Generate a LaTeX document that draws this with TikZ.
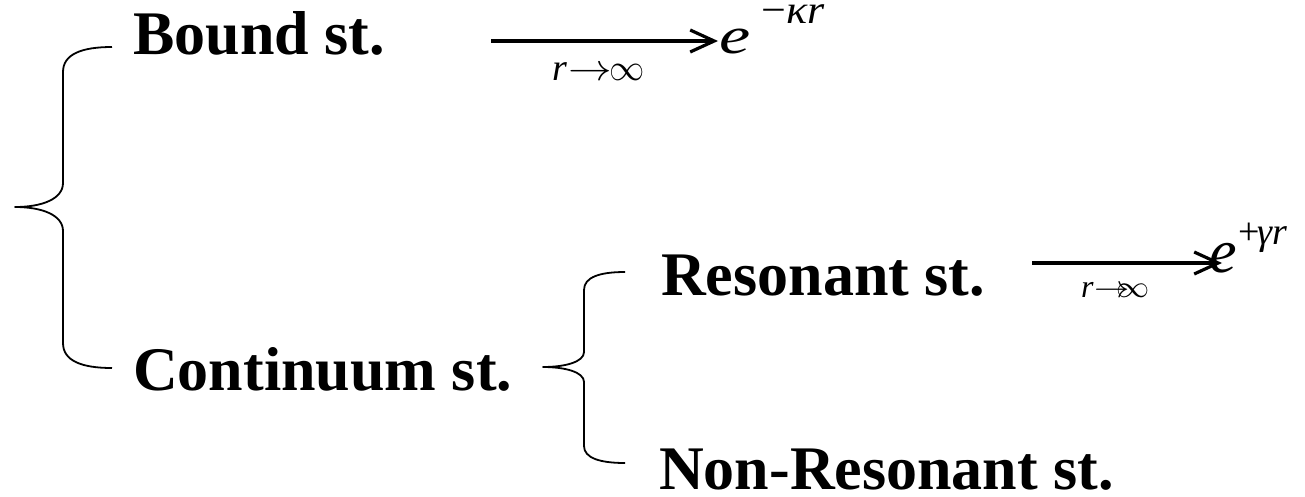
\documentclass[tikz,border=0pt]{standalone}
\usepackage{fontspec}
\setmainfont{Liberation Serif}[ItalicFont={Liberation Serif Italic},BoldFont={Liberation Serif Bold}]
\usetikzlibrary{arrows.meta}
\newcommand{\limsym}[4]{{\fontsize{20.74}{22}\selectfont\scalebox{#1}[#2]{$\rightarrow$}\kern#4\scalebox{#3}[#2]{$\infty$}}}
\begin{document}
\begin{tikzpicture}[x=1pt,y=-1pt,
  lbl/.style={anchor=base west,inner sep=0pt,font=\fontsize{62}{70}\selectfont\bfseries},
  brace/.style={line width=1.8pt,line join=round},
  limarrow/.style={line width=3.5pt,-{Straight Barb[length=24pt,width=22pt,line width=3.2pt]}},
  txt/.style={anchor=base west,inner sep=0pt}]
\useasboundingbox (0,0) rectangle (1305,496);
% labels
\node[lbl] (bound) at (133,54) {Bound st.};
\node[lbl] (cont) at (133,390) {Continuum st.};
\node[lbl] (res) at (661,295) {Resonant st.};
\node[lbl] (nonres) at (659,489) {Non-Resonant st.};
% big brace
\coordinate (B1) at (112,47);
\coordinate (B2) at (112,368);
\coordinate (Bt) at (15,207);
\draw[brace] (B1) .. controls (82,47) and (63,54) .. (63,72) -- (63,183)
  .. controls (63,199) and (42,207) .. (Bt)
  .. controls (42,207) and (63,215) .. (63,231) -- (63,343)
  .. controls (63,361) and (82,368) .. (B2);
% small brace
\coordinate (S1) at (625,272);
\coordinate (S2) at (625,463);
\coordinate (St) at (543,367);
\draw[brace] (S1) .. controls (600,272) and (584,277) .. (584,290) -- (584,352)
  .. controls (584,362) and (565,367) .. (St)
  .. controls (565,367) and (584,372) .. (584,382) -- (584,446)
  .. controls (584,458) and (600,463) .. (S2);
% arrow 1
\coordinate (a1s) at (491,41);
\coordinate (a1e) at (718,41);
\draw[limarrow] (a1s) -- (a1e);
\node[txt] (lim1) at (552,80) {\fontsize{38}{40}\selectfont\textit{r}\kern1pt\limsym{2.1}{1.8}{1.7}{-2pt}};
\node[txt] (e1) at (719,53) {\scalebox{1.35}[1]{\fontsize{52}{60}\selectfont\itshape e}};
\node[txt] (sup1) at (761,23) {\scalebox{1.1}[1]{\fontsize{40}{40}\selectfont −\textit{κr}}};
% arrow 2
\coordinate (a2s) at (1032,263);
\coordinate (a2e) at (1222,263);
\draw[limarrow] (a2s) -- (a2e);
\node[txt] (lim2) at (1081,297) {\fontsize{32}{34}\selectfont\textit{r}\kern1pt\limsym{1.7}{1.5}{1.6}{-14pt}};
\node[txt] (e2) at (1209,272) {\fontsize{62}{60}\selectfont\itshape e};
\node[txt] (sup2) at (1238,244) {\fontsize{38}{40}\selectfont +\kern-2pt\textit{γr}};
\end{tikzpicture}
\end{document}
